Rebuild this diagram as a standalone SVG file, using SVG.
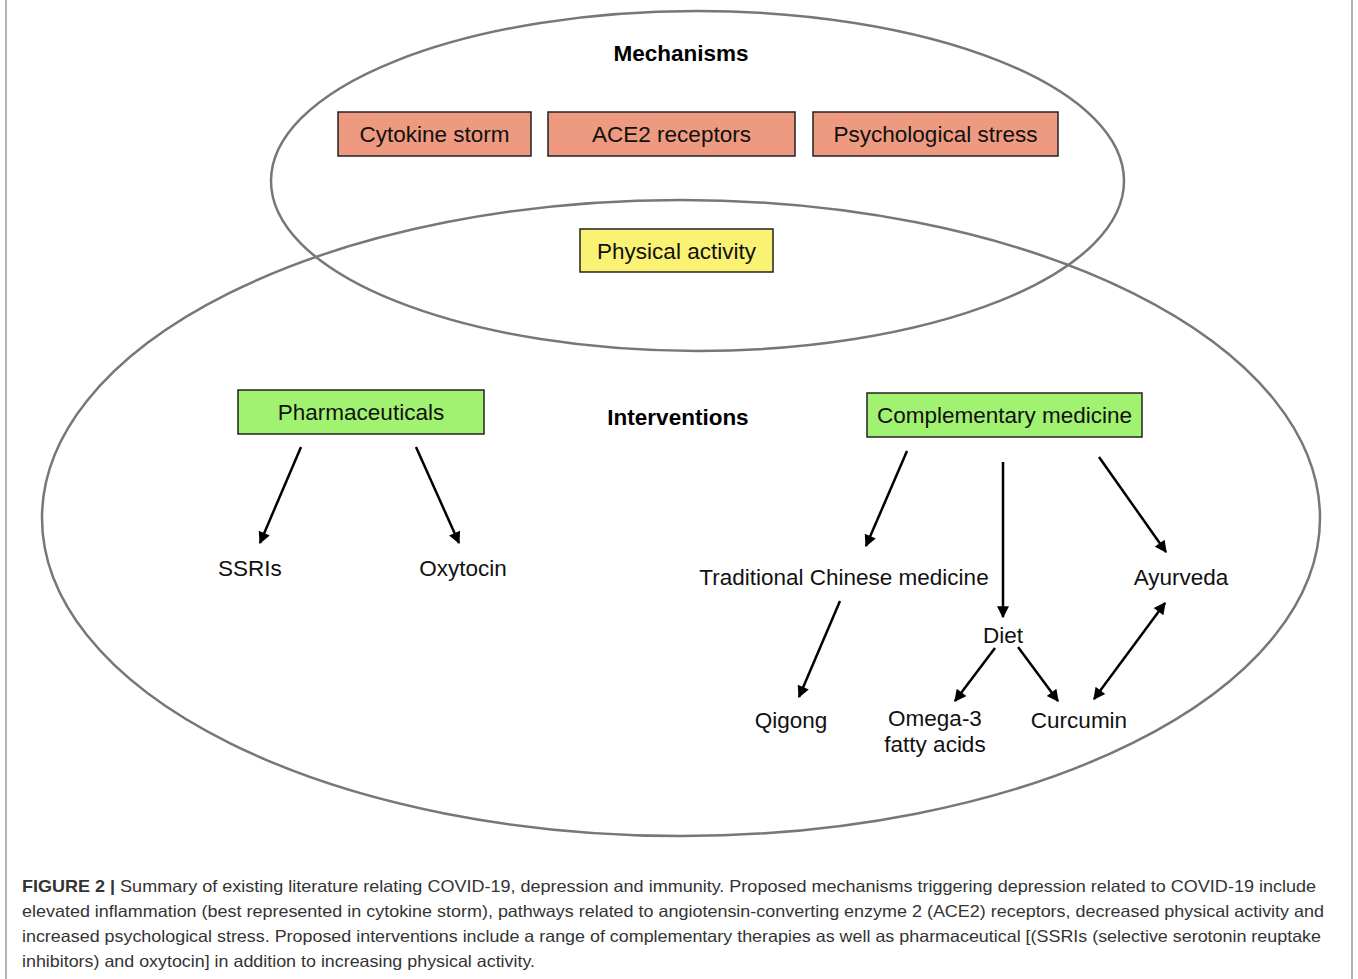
<svg xmlns="http://www.w3.org/2000/svg" width="1358" height="979" viewBox="0 0 1358 979">
<defs>
<marker id="ah" viewBox="0 0 10 10" refX="9" refY="5" markerWidth="13" markerHeight="12" markerUnits="userSpaceOnUse" orient="auto-start-reverse">
<path d="M0,0 L10,5 L0,10 z" fill="#000"/>
</marker>
<style>
.ell{fill:none;stroke:#777;stroke-width:2.5}
.box{stroke:#222;stroke-width:1.5}
.red{fill:#EE9A80}
.yel{fill:#FAF272}
.grn{fill:#A2F272}
.t{font-family:"Liberation Sans",Arial,sans-serif;font-size:22.5px;fill:#111;text-anchor:middle}
.b{font-family:"Liberation Sans",Arial,sans-serif;font-size:22.5px;font-weight:bold;fill:#000;text-anchor:middle}
.c{font-family:"Liberation Sans",Arial,sans-serif;font-size:16.5px;fill:#333}
.arr{stroke:#000;stroke-width:2.5;fill:none;marker-end:url(#ah)}
</style>
</defs>
<rect width="1358" height="979" fill="#fff"/>
<line x1="6" y1="0" x2="6" y2="979" stroke="#999" stroke-width="1.5"/>
<line x1="1352" y1="0" x2="1352" y2="979" stroke="#999" stroke-width="1.5"/>
<g id="regions">
<ellipse class="ell" cx="697.5" cy="181" rx="426.5" ry="170"/>
<ellipse class="ell" cx="681" cy="518" rx="639" ry="318"/>
</g>
<g id="mechanisms-label"><text class="b" x="681" y="61">Mechanisms</text></g>
<g id="interventions-label"><text class="b" x="678" y="425">Interventions</text></g>
<g id="cytokine"><rect class="box red" x="338" y="112" width="193" height="44"/><text class="t" x="434.5" y="142">Cytokine storm</text></g>
<g id="ace2"><rect class="box red" x="548" y="112" width="247" height="44"/><text class="t" x="671.5" y="142">ACE2 receptors</text></g>
<g id="stress"><rect class="box red" x="813" y="112" width="245" height="44"/><text class="t" x="935.5" y="142">Psychological stress</text></g>
<g id="physical"><rect class="box yel" x="580" y="229" width="193" height="43"/><text class="t" x="676.5" y="259">Physical activity</text></g>
<g id="pharma"><rect class="box grn" x="238" y="390" width="246" height="44"/><text class="t" x="361" y="420">Pharmaceuticals</text></g>
<g id="complementary"><rect class="box grn" x="867" y="393" width="275" height="44"/><text class="t" x="1004.5" y="423">Complementary medicine</text></g>
<g id="ssris"><text class="t" x="250" y="576">SSRIs</text></g>
<g id="oxytocin"><text class="t" x="463" y="576">Oxytocin</text></g>
<g id="tcm"><text class="t" x="844" y="585">Traditional Chinese medicine</text></g>
<g id="ayurveda"><text class="t" x="1181" y="585">Ayurveda</text></g>
<g id="diet"><text class="t" x="1003" y="643">Diet</text></g>
<g id="qigong"><text class="t" x="791" y="728">Qigong</text></g>
<g id="omega"><text class="t" x="935" y="726">Omega-3</text><text class="t" x="935" y="752">fatty acids</text></g>
<g id="curcumin"><text class="t" x="1079" y="728">Curcumin</text></g>
<g id="connectors">
<line class="arr" x1="301" y1="447" x2="260" y2="543"/>
<line class="arr" x1="416" y1="447" x2="459" y2="543"/>
<line class="arr" x1="907" y1="451" x2="866" y2="546"/>
<line class="arr" x1="1003" y1="462" x2="1003" y2="617"/>
<line class="arr" x1="1099" y1="457" x2="1166" y2="552"/>
<line class="arr" x1="840" y1="601" x2="799" y2="697"/>
<line class="arr" x1="995" y1="648" x2="955" y2="701"/>
<line class="arr" x1="1018" y1="647" x2="1058" y2="701"/>
<line class="arr" x1="1165" y1="603" x2="1094" y2="699" style="marker-start:url(#ah)"/>
</g>
<g id="caption">
<text class="c" x="22" y="892" textLength="1294" lengthAdjust="spacingAndGlyphs"><tspan font-weight="bold">FIGURE 2 |</tspan> Summary of existing literature relating COVID-19, depression and immunity. Proposed mechanisms triggering depression related to COVID-19 include</text>
<text class="c" x="22" y="917" textLength="1302" lengthAdjust="spacingAndGlyphs">elevated inflammation (best represented in cytokine storm), pathways related to angiotensin-converting enzyme 2 (ACE2) receptors, decreased physical activity and</text>
<text class="c" x="22" y="942" textLength="1299" lengthAdjust="spacingAndGlyphs">increased psychological stress. Proposed interventions include a range of complementary therapies as well as pharmaceutical [(SSRIs (selective serotonin reuptake</text>
<text class="c" x="22" y="967" textLength="513" lengthAdjust="spacingAndGlyphs">inhibitors) and oxytocin] in addition to increasing physical activity.</text>
</g>
</svg>
